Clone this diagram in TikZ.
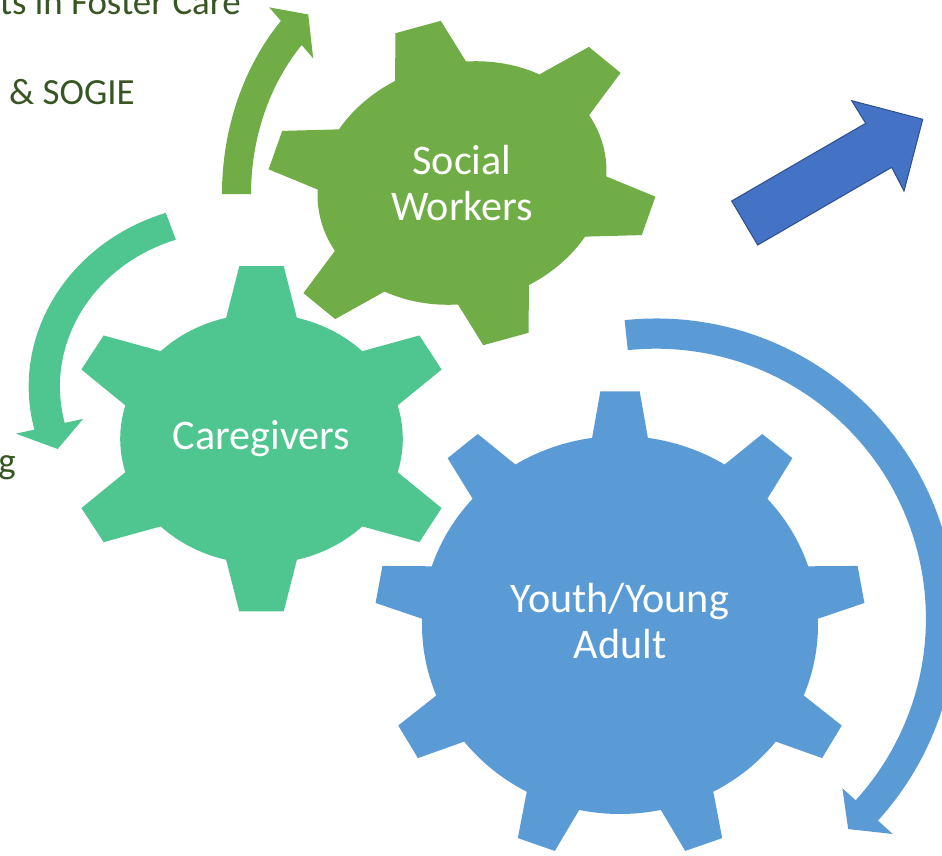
\documentclass[tikz,border=0pt]{standalone}
\usepackage{fontspec}
\setmainfont{Carlito}
\definecolor{swgreen}{HTML}{70AD47}
\definecolor{cgteal}{HTML}{4FC58F}
\definecolor{yablue}{HTML}{5B9BD5}
\definecolor{arrowblue}{HTML}{4472C4}
\definecolor{arrowedge}{HTML}{2F528F}
\definecolor{notegreen}{HTML}{375623}
\begin{document}
\begin{tikzpicture}[
    x=0.02cm, y=0.02cm,
    gear label/.style={text=white, align=center, inner sep=0pt, font=\fontsize{24}{26.4}\selectfont},
    side text/.style={text=notegreen, inner sep=0pt, anchor=base east, font=\fontsize{21}{25}\selectfont},
    block arrow/.style={fill=arrowblue, draw=arrowedge, line width=0.6pt, line join=miter},
    pics/gear/.style n args={5}{code={
        \fill ({#2-#5}:1) \foreach \k in {1,...,#1}{
            -- ({#2+(\k-1)*360/#1-#4}:#3) -- ({#2+(\k-1)*360/#1+#4}:#3)
            -- ({#2+(\k-1)*360/#1+#5}:1)
            arc[start angle={#2+(\k-1)*360/#1+#5}, end angle={#2+\k*360/#1-#5}, radius=1]
        } -- cycle;
    }},
    pics/ring arrow/.style n args={7}{code={
        \fill ({#1}:#5) arc[start angle=#1, end angle=#2, radius=#5]
            -- ({#2}:#7) -- ({#3}:1) -- ({#2}:#6) -- ({#2}:#4)
            arc[start angle=#2, end angle=#1, radius=#4] -- cycle;
    }},
    ]
\useasboundingbox (0,0) rectangle (942,-855);
\pic[color=swgreen, xscale=193.5, yscale=231] at (430,-194) {ring arrow={180}{135.8}{129}{0.925}{1.075}{0.842}{1.159}};
\pic[color=cgteal, xscale=186, yscale=169] at (230.5,-386.5) {ring arrow={108.7}{193.6}{201.7}{0.917}{1.085}{0.815}{1.187}};
\pic[color=yablue, scale=285] at (656,-618.6) {ring arrow={96}{-42.3}{-47.6}{0.947}{1.053}{0.884}{1.123}};
\pic[color=swgreen, rotate=14.5, xscale=146, yscale=120] at (462,-183) {gear={6}{91}{1.36}{6.8}{14.6}};
\pic[color=cgteal, xscale=141.3, yscale=125] at (261.5,-438.8) {gear={6}{90}{1.39}{6.5}{14.5}};
\pic[color=yablue, xscale=198, yscale=189] at (620,-625) {gear={9}{90}{1.24}{4.6}{8.1}};
\draw[block arrow] (731.7,-201) -- (865.7,-123.3) -- (851.7,-100.7) -- (922.7,-119.3)
    -- (904,-191) -- (891.7,-167.3) -- (757.7,-245) -- cycle;
\node[gear label] (social) at (462,-183) {Social\\Workers};
\node[gear label] (care) at (261.5,-439) {Caregivers};
\node[gear label] (youth) at (620,-621) {Youth/Young\\Adult};
\node[side text] (foster) at (241,-15) {ts in Foster Care};
\node[side text] (sogie) at (135,-105) {\& SOGIE};
\node[side text] (gtail) at (16,-473) {g};
\end{tikzpicture}
\end{document}
